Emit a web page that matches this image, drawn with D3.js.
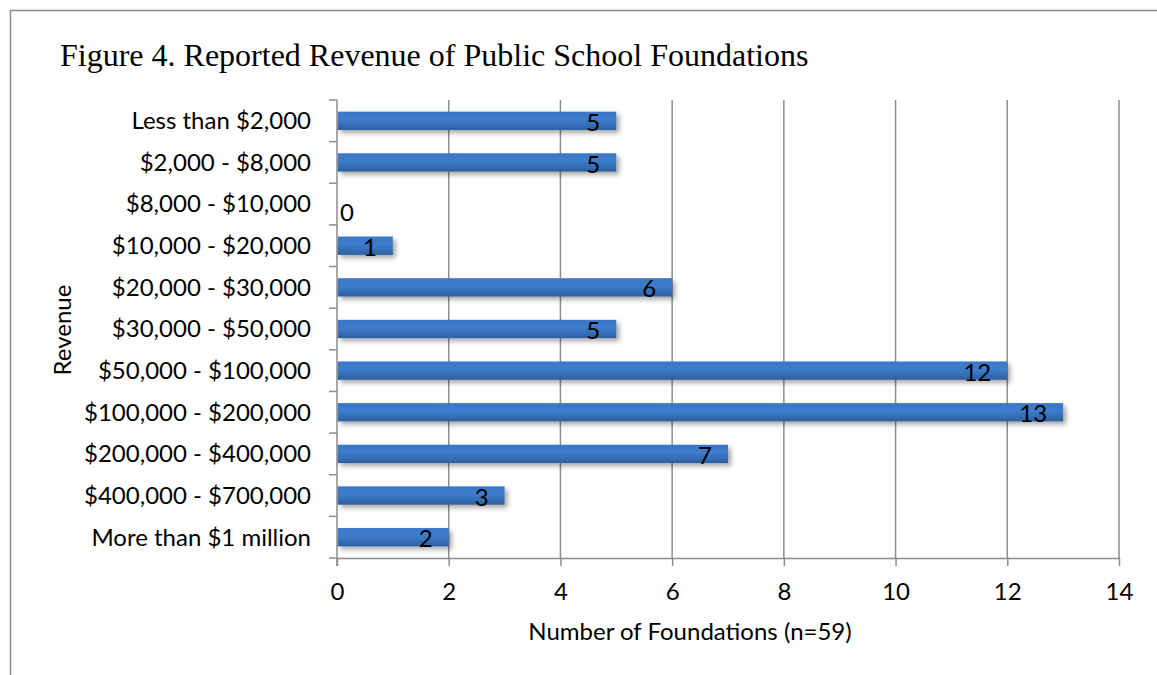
<!DOCTYPE html>
<html>
<head>
<meta charset="utf-8">
<script src="https://cdn.jsdelivr.net/npm/d3@7"></script>
<style>
  body { margin: 0; background: #fff; }
  text { font-family: Lato, "Open Sans", sans-serif; }
</style>
</head>
<body>
<div id="chart"></div>
<script>
let categories = [
    'Less than $2,000', '$2,000 - $8,000', '$8,000 - $10,000', '$10,000 - $20,000',
    '$20,000 - $30,000', '$30,000 - $50,000', '$50,000 - $100,000', '$100,000 - $200,000',
    '$200,000 - $400,000', '$400,000 - $700,000', 'More than $1 million'
]
let counts = [5, 5, 0, 1, 6, 5, 12, 13, 7, 3, 2]
let xTicks = [0, 2, 4, 6, 8, 10, 12, 14]

let svgWidth = 1157,
    svgHeight = 675,
    margin = { top: 100, right: 38, bottom: 117, left: 337 },
    chartWidth = svgWidth - margin.left - margin.right,
    chartHeight = svgHeight - margin.top - margin.bottom

let fontSize = '24px'

let svg = d3.select('#chart')
    .append('svg')
    .attr('width', svgWidth)
    .attr('height', svgHeight)

// outer frame
svg.append('rect')
    .attr('x', 10.5).attr('y', 10.5)
    .attr('width', 1160).attr('height', 700)
    .attr('fill', 'none')
    .attr('stroke', '#8c8c8c')
    .attr('stroke-width', 1.5)

let defs = svg.append('defs')
let grad = defs.append('linearGradient')
    .attr('id', 'barGrad')
    .attr('x1', 0).attr('y1', 0).attr('x2', 0).attr('y2', 1)
grad.append('stop').attr('offset', '0%').attr('stop-color', '#3a78c6')
grad.append('stop').attr('offset', '45%').attr('stop-color', '#3d7ccc')
grad.append('stop').attr('offset', '100%').attr('stop-color', '#2d5f9f')

let shadow = defs.append('filter')
    .attr('id', 'shadow')
    .attr('x', '-5%').attr('y', '-30%').attr('width', '115%').attr('height', '190%')
shadow.append('feDropShadow')
    .attr('dx', 3).attr('dy', 3).attr('stdDeviation', 2.5)
    .attr('flood-color', '#000').attr('flood-opacity', 0.35)

svg.append('text')
    .attr('x', 60)
    .attr('y', 66)
    .style('font-family', '"Liberation Serif", "Times New Roman", serif')
    .attr('font-size', '32px')
    .attr('fill', '#000')
    .text('Figure 4. Reported Revenue of Public School Foundations')

let x = d3.scaleLinear()
    .domain([0, 14])
    .range([0, chartWidth])

let y = d3.scaleBand()
    .domain(categories)
    .range([0, chartHeight])
    .paddingInner(0.56)
    .paddingOuter(0.28)

let g = svg.append('g')
    .attr('transform', `translate(${margin.left},${margin.top})`)

// vertical gridlines
g.selectAll('.grid')
    .data(xTicks.slice(1))
    .enter().append('line')
    .attr('class', 'grid')
    .attr('x1', d => x(d)).attr('x2', d => x(d))
    .attr('y1', 0).attr('y2', chartHeight)
    .attr('stroke', '#8c8c8c')
    .attr('stroke-width', 1.5)

// x axis
let xAxis = g.append('g')
    .attr('transform', `translate(0,${chartHeight})`)
    .call(d3.axisBottom(x).tickValues(xTicks).tickSize(8).tickPadding(17).tickSizeOuter(0))
xAxis.select('.domain').attr('stroke', '#8c8c8c').attr('stroke-width', 1.5)
xAxis.selectAll('.tick line').attr('stroke', '#8c8c8c').attr('stroke-width', 1.5)
xAxis.selectAll('.tick text')
    .attr('font-size', fontSize)
    .attr('fill', '#000')
    .style('font-family', 'Lato, "Open Sans", sans-serif')

// y axis with boundary ticks between categories
let yAxis = g.append('g')
yAxis.append('line')
    .attr('x1', 0).attr('x2', 0)
    .attr('y1', 0).attr('y2', chartHeight + 8)
    .attr('stroke', '#8c8c8c')
    .attr('stroke-width', 1.5)
let bounds = d3.range(categories.length + 1).map(i => i * chartHeight / categories.length)
yAxis.selectAll('.ytick')
    .data(bounds)
    .enter().append('line')
    .attr('class', 'ytick')
    .attr('x1', -8).attr('x2', 0)
    .attr('y1', d => d).attr('y2', d => d)
    .attr('stroke', '#8c8c8c')
    .attr('stroke-width', 1.5)

yAxis.selectAll('.ylabel')
    .data(categories)
    .enter().append('text')
    .attr('class', 'ylabel')
    .attr('x', -26)
    .attr('y', d => y(d) + y.bandwidth() / 2)
    .attr('dy', '0.35em')
    .attr('text-anchor', 'end')
    .attr('font-size', fontSize)
    .attr('fill', '#000')
    .text(d => d)

// bars
g.selectAll('.bar')
    .data(counts)
    .enter().append('rect')
    .attr('class', 'bar')
    .attr('x', 0.75)
    .attr('y', (d, i) => y(categories[i]))
    .attr('width', d => Math.max(0, x(d) - 0.75))
    .attr('height', y.bandwidth())
    .attr('fill', 'url(#barGrad)')
    .attr('filter', 'url(#shadow)')
    .style('display', d => d === 0 ? 'none' : null)

// value labels
g.selectAll('.val')
    .data(counts)
    .enter().append('text')
    .attr('class', 'val')
    .attr('x', d => d === 0 ? 3 : x(d) - 16)
    .attr('y', (d, i) => y(categories[i]) + y.bandwidth() / 2 + (d === 0 ? 8 : 1))
    .attr('dy', '0.38em')
    .attr('text-anchor', d => d === 0 ? 'start' : 'end')
    .attr('font-size', fontSize)
    .attr('fill', '#000')
    .text(d => d)

// axis titles
svg.append('text')
    .attr('x', 690)
    .attr('y', 640)
    .attr('text-anchor', 'middle')
    .attr('font-size', fontSize)
    .attr('fill', '#000')
    .text('Number of Foundations (n=59)')

svg.append('text')
    .attr('transform', `translate(71,330) rotate(-90)`)
    .attr('text-anchor', 'middle')
    .attr('font-size', fontSize)
    .attr('fill', '#000')
    .text('Revenue')
</script>
</body>
</html>
